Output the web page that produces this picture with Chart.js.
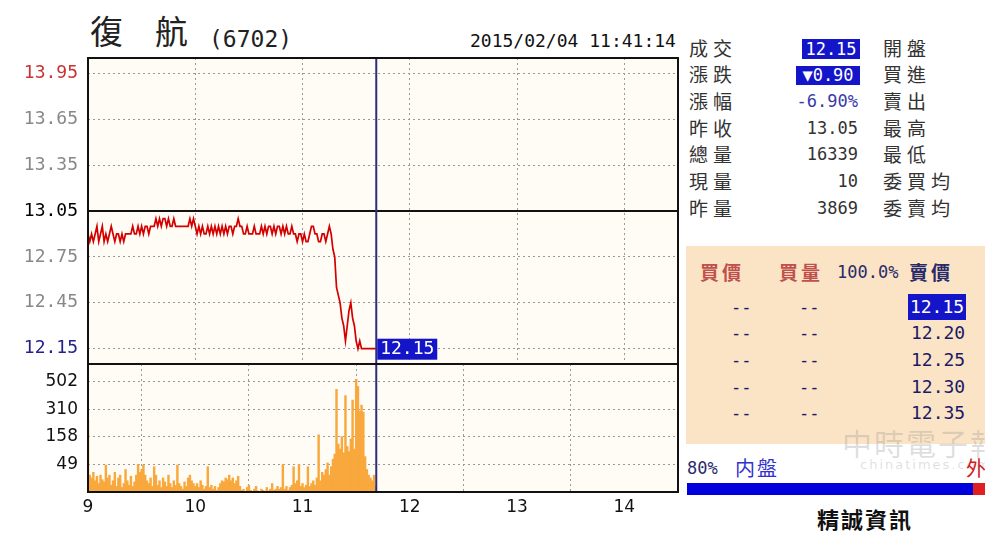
<!DOCTYPE html>
<html><head><meta charset="utf-8">
<script src="https://cdn.jsdelivr.net/npm/chart.js@4.4.1/dist/chart.umd.min.js"></script>
<style>
html,body{margin:0;padding:0;background:#fff;width:985px;height:536px;overflow:hidden;}
.a{position:absolute;white-space:nowrap;}
.cjk{font-family:"Noto Sans CJK TC","Noto Sans CJK SC",sans-serif;}
.mono{font-family:"DejaVu Sans Mono",monospace;}
#price{position:absolute;left:0;top:40px;z-index:2;}
#vol{position:absolute;left:0;top:352px;z-index:1;}
.lab{font-size:19px;letter-spacing:5px;color:#333;line-height:24px;}
.val{font-size:17px;color:#333;line-height:24px;text-align:right;width:110px;left:748px;}
.box{background:#1414c8;color:#fff;text-align:center;}
.ob{font-size:17px;color:#1a1a66;line-height:24px;}
</style></head><body>

<div class="a cjk" style="left:90px;top:8px;font-size:33px;color:#222;line-height:44px;">復</div>
<div class="a cjk" style="left:155px;top:8px;font-size:33px;color:#222;line-height:44px;">航</div>
<div class="a mono" style="left:209px;top:24px;font-size:23px;color:#222;line-height:30px;">(6702)</div>
<div class="a mono" style="left:470px;top:30px;font-size:18px;color:#111;line-height:22px;">2015/02/04 11:41:14</div>

<canvas id="price" width="690" height="336"></canvas>
<canvas id="vol" width="690" height="184"></canvas>

<!-- right info panel -->
<div class="a cjk lab" style="left:689px;top:36px;">成交</div>
<div class="a cjk lab" style="left:689px;top:62px;">漲跌</div>
<div class="a cjk lab" style="left:689px;top:89px;">漲幅</div>
<div class="a cjk lab" style="left:689px;top:116px;">昨收</div>
<div class="a cjk lab" style="left:689px;top:142px;">總量</div>
<div class="a cjk lab" style="left:689px;top:169px;">現量</div>
<div class="a cjk lab" style="left:689px;top:196px;">昨量</div>

<div class="a mono box" style="left:802px;top:39px;width:58px;height:20px;font-size:17px;line-height:20px;">12.15</div>
<div class="a mono box" style="left:796px;top:66px;width:64px;height:19px;font-size:17px;line-height:19px;">▼0.90</div>
<div class="a mono val" style="top:89px;color:#3a3aa8;">-6.90%</div>
<div class="a mono val" style="top:116px;">13.05</div>
<div class="a mono val" style="top:142px;">16339</div>
<div class="a mono val" style="top:169px;">10</div>
<div class="a mono val" style="top:196px;">3869</div>

<div class="a cjk lab" style="left:883px;top:36px;">開盤</div>
<div class="a cjk lab" style="left:883px;top:62px;">買進</div>
<div class="a cjk lab" style="left:883px;top:89px;">賣出</div>
<div class="a cjk lab" style="left:883px;top:116px;">最高</div>
<div class="a cjk lab" style="left:883px;top:142px;">最低</div>
<div class="a cjk lab" style="left:883px;top:169px;">委買均</div>
<div class="a cjk lab" style="left:883px;top:196px;">委賣均</div>

<!-- order book -->
<div class="a" style="left:686px;top:246px;width:299px;height:198px;background:#fbe4c6;"></div>
<div class="a cjk" style="left:700px;top:259px;font-size:19px;color:#c0504d;letter-spacing:3px;line-height:26px;font-weight:bold;">買價</div>
<div class="a cjk" style="left:779px;top:259px;font-size:19px;color:#c0504d;letter-spacing:3px;line-height:26px;font-weight:bold;">買量</div>
<div class="a mono" style="left:837px;top:260px;font-size:17px;color:#2a2a6a;line-height:24px;">100.0%</div>
<div class="a cjk" style="left:909px;top:259px;font-size:19px;color:#2a2a6a;letter-spacing:3px;line-height:26px;font-weight:bold;">賣價</div>

<div class="a mono ob" style="left:731px;top:295px;">--</div><div class="a mono ob" style="left:799px;top:295px;">--</div>
<div class="a mono ob" style="left:731px;top:321px;">--</div><div class="a mono ob" style="left:799px;top:321px;">--</div>
<div class="a mono ob" style="left:731px;top:348px;">--</div><div class="a mono ob" style="left:799px;top:348px;">--</div>
<div class="a mono ob" style="left:731px;top:375px;">--</div><div class="a mono ob" style="left:799px;top:375px;">--</div>
<div class="a mono ob" style="left:731px;top:401px;">--</div><div class="a mono ob" style="left:799px;top:401px;">--</div>

<div class="a mono box" style="left:908px;top:294px;width:58px;height:26px;font-size:18px;line-height:26px;">12.15</div>
<div class="a mono ob" style="left:911px;top:321px;font-size:18px;">12.20</div>
<div class="a mono ob" style="left:911px;top:348px;font-size:18px;">12.25</div>
<div class="a mono ob" style="left:911px;top:375px;font-size:18px;">12.30</div>
<div class="a mono ob" style="left:911px;top:401px;font-size:18px;">12.35</div>

<div class="a cjk" style="left:842px;top:424px;font-size:30px;color:rgba(140,140,140,0.28);line-height:36px;letter-spacing:2px;">中時電子報</div>
<div class="a" style="left:860px;top:457px;font-size:13px;color:rgba(140,140,140,0.28);font-family:'DejaVu Sans';letter-spacing:2px;">chinatimes.com</div>

<div class="a mono" style="left:687px;top:457px;font-size:17px;color:#2a2a6a;line-height:22px;">80%</div>
<div class="a cjk" style="left:735px;top:455px;font-size:20px;color:#3333cc;line-height:26px;letter-spacing:2px;">内盤</div>
<div class="a cjk" style="left:966px;top:455px;font-size:20px;color:#d02020;line-height:26px;">外</div>
<div class="a" style="left:687px;top:483px;width:286px;height:12px;background:#0000dd;"></div>
<div class="a" style="left:973px;top:483px;width:12px;height:12px;background:#e02020;"></div>
<div class="a cjk" style="left:817px;top:503px;font-size:22px;color:#111;line-height:30px;letter-spacing:2px;font-weight:bold;">精誠資訊</div>

<script>
// ---- data ----
const hourLabels = ['9','10','11','12','13','14'];
const hourTicks = [0, 60, 120, 180, 240, 300];      // minutes after 9:00
const sessionMinutes = 330;                           // axis end (14:30)
const priceTicks = [12.15, 12.45, 12.75, 13.05, 13.35, 13.65, 13.95];
const prevClose = 13.05;
const limitUp = 13.95;
const limitDown = 12.15;
const priceMin = 12.05;
const priceMax = 14.05;
const cursorMinute = 161.23;                          // 11:41:14
const lastPrice = 12.15;

// one value per minute from 9:00
const priceValues = [
  12.90,12.85,12.90,12.85,12.90,12.95,12.85,12.90,12.95,12.85,
  12.90,12.85,12.90,12.95,12.90,12.85,12.90,12.90,12.85,12.90,
  12.85,12.90,12.90,
  12.90,12.90,12.95,12.90,12.90,12.95,12.90,12.95,12.90,12.95,12.95,12.90,12.95,12.95,
  12.95,13.00,12.95,13.00,12.95,13.00,13.00,12.95,13.00,12.95,12.95,13.00,12.95,12.95,
  12.95,12.95,12.95,12.95,12.95,12.95,13.00,12.95,13.00,12.95,
  12.90,12.95,12.90,12.95,12.90,12.90,12.95,12.90,12.95,12.90,
  12.95,12.90,12.95,12.90,12.95,12.90,12.95,12.90,12.95,12.95,
  12.90,12.95,12.95,13.00,12.95,12.95,12.90,12.90,12.95,12.90,
  12.90,12.90,12.95,12.90,12.90,12.90,12.95,12.90,12.95,12.90,
  12.95,12.95,12.90,12.95,12.90,12.95,12.95,12.90,12.95,12.90,
  12.95,12.90,12.90,12.95,12.90,12.90,12.85,12.90,12.90,12.85,
  12.90,12.85,12.85,12.90,12.95,12.95,12.90,12.90,12.85,12.85,12.90,12.90,12.85,12.90,12.95,12.90,
  12.80,12.75,12.55,12.50,12.45,12.35,12.30,12.20,12.30,12.40,12.45,12.35,12.30,12.20,12.15,12.20,12.15,
  12.15,12.15,12.15,12.15,12.15,12.15,12.15,12.15
];

const volumeValues = [
  250,30,25,35,20,28,15,30,22,18,
  48,25,30,12,20,35,10,25,30,8,
  15,40,20,12,28,10,18,30,49,35,
  40,48,30,20,15,25,10,45,30,12,
  20,8,25,18,10,30,15,8,20,12,
  48,15,10,5,18,10,25,30,20,15,
  10,15,8,20,12,5,10,45,8,12,
  5,10,3,8,15,20,18,25,22,30,
  20,25,15,20,28,10,3,5,0,8,
  12,3,0,5,10,2,0,5,3,0,
  8,2,5,15,3,5,10,5,8,49,
  5,10,3,8,12,45,15,20,49,10,
  15,8,12,45,10,15,20,12,25,170,
  20,35,30,40,55,30,45,70,90,450,
  130,110,160,95,406,120,100,150,375,110,
  520,470,300,340,295,80,40,30,25,20,
  30,10
];
const volTickValues = [49, 158, 310, 502];

// volume axis: evenly spaced labelled levels, linear between them
function volPos(v){
  const lv = [0].concat(volTickValues);
  for (let i = 1; i < lv.length; i++) {
    if (v <= lv[i]) return (i - 1) + (v - lv[i-1]) / (lv[i] - lv[i-1]);
  }
  const n = lv.length - 1;
  return n + (v - lv[n]) / (lv[n] - lv[n-1]);
}

const GRID = '#9a9a9a';
const DASH = [2, 3];
const CLEAR = 'rgba(0,0,0,0)';

const framePlugin = {
  id: 'frame',
  beforeDraw(chart){
    const {ctx, chartArea:a} = chart;
    ctx.save();
    ctx.fillStyle = '#fffcf6';
    ctx.fillRect(a.left, a.top, a.right - a.left, a.bottom - a.top);
    ctx.restore();
  },
  afterDraw(chart){
    const {ctx, chartArea:a, scales} = chart;
    ctx.save();
    const cx = scales.x.getPixelForValue(cursorMinute);
    ctx.strokeStyle = '#2e2e78';
    ctx.lineWidth = 2;
    ctx.beginPath(); ctx.moveTo(cx, a.top); ctx.lineTo(cx, a.bottom); ctx.stroke();
    ctx.strokeStyle = '#111';
    ctx.lineWidth = 2;
    ctx.strokeRect(a.left, a.top, a.right - a.left, a.bottom - a.top);
    ctx.restore();
  }
};

const pricePlugin = {
  id: 'priceExtras',
  beforeDatasetsDraw(chart){
    const {ctx, chartArea:a, scales} = chart;
    const y = scales.y.getPixelForValue(prevClose);
    ctx.save();
    ctx.strokeStyle = '#111'; ctx.lineWidth = 2;
    ctx.beginPath(); ctx.moveTo(a.left, y); ctx.lineTo(a.right, y); ctx.stroke();
    ctx.restore();
  },
  afterDraw(chart){
    const {ctx, scales} = chart;
    const x = scales.x.getPixelForValue(cursorMinute) + 1;
    const y = scales.y.getPixelForValue(lastPrice);
    ctx.save();
    ctx.fillStyle = '#1414c8';
    ctx.fillRect(x, y - 10, 60, 21);
    ctx.fillStyle = '#fff';
    ctx.font = '18px "DejaVu Sans Mono"';
    ctx.textAlign = 'center'; ctx.textBaseline = 'middle';
    ctx.fillText(lastPrice.toFixed(2), x + 30, y + 1);
    ctx.restore();
  }
};

function tickColor(v){
  if (Math.abs(v - limitUp) < 1e-6) return '#c83232';
  if (Math.abs(v - limitDown) < 1e-6) return '#22228a';
  if (Math.abs(v - prevClose) < 1e-6) return '#000';
  return '#888';
}

const xCommon = {
  type: 'linear', min: 0, max: sessionMinutes,
  afterBuildTicks: s => { s.ticks = hourTicks.map(v => ({value: v})); },
  grid: { color: c => (c.tick && c.tick.value === 0) ? CLEAR : GRID, drawTicks: false, lineWidth: 1 },
  border: { display: false, dash: DASH }
};

new Chart(document.getElementById('price'), {
  type: 'line',
  data: { datasets: [{
    data: priceValues.map((v, i) => ({x: i, y: v})),
    borderColor: '#d40000', borderWidth: 1.7, pointRadius: 0, tension: 0, fill: false
  }]},
  options: {
    responsive: false, animation: false, events: [],
    layout: { padding: { top: 18, right: 12, bottom: 12, left: 0 } },
    plugins: { legend: { display: false }, tooltip: { enabled: false } },
    scales: {
      x: Object.assign({}, xCommon, {
        ticks: { display: false },
        afterFit: s => { s.height = 0; }
      }),
      y: {
        min: priceMin, max: priceMax,
        afterBuildTicks: s => { s.ticks = priceTicks.map(v => ({value: v})); },
        ticks: {
          callback: v => Number(v).toFixed(2),
          color: c => tickColor(c.tick.value),
          font: { family: 'DejaVu Sans Mono', size: 18 },
          padding: 0
        },
        grid: { color: c => (c.tick && Math.abs(c.tick.value - prevClose) < 1e-6) ? CLEAR : GRID,
                drawTicks: true, tickLength: 10, tickColor: CLEAR, lineWidth: 1 },
        border: { display: false, dash: DASH },
        afterFit: s => { s.width = 88; }
      }
    }
  },
  plugins: [framePlugin, pricePlugin]
});

new Chart(document.getElementById('vol'), {
  type: 'bar',
  data: { datasets: [{
    data: volumeValues.map((v, i) => ({x: i, y: volPos(v)})),
    backgroundColor: '#f8a83c', borderWidth: 0,
    barPercentage: 1, categoryPercentage: 1
  }]},
  options: {
    responsive: false, animation: false, events: [],
    layout: { padding: { top: 12, right: 12, bottom: 4, left: 0 } },
    plugins: { legend: { display: false }, tooltip: { enabled: false } },
    scales: {
      x: Object.assign({}, xCommon, {
        offset: false,
        ticks: {
          callback: (v, i) => hourLabels[i],
          color: '#111', font: { family: 'DejaVu Sans', size: 17 },
          padding: 5, maxRotation: 0, autoSkip: false
        },
        afterFit: s => { s.height = 40; }
      }),
      y: {
        min: 0, max: 4.65,
        afterBuildTicks: s => { s.ticks = volTickValues.map((v, i) => ({value: i + 1})); },
        ticks: {
          callback: (v, i) => String(volTickValues[i]),
          color: '#111', font: { family: 'DejaVu Sans', size: 17 },
          padding: 0
        },
        grid: { color: GRID, drawTicks: true, tickLength: 10, tickColor: CLEAR, lineWidth: 1 },
        border: { display: false, dash: DASH },
        afterFit: s => { s.width = 88; }
      }
    }
  },
  plugins: [framePlugin]
});
</script>
</body></html>
